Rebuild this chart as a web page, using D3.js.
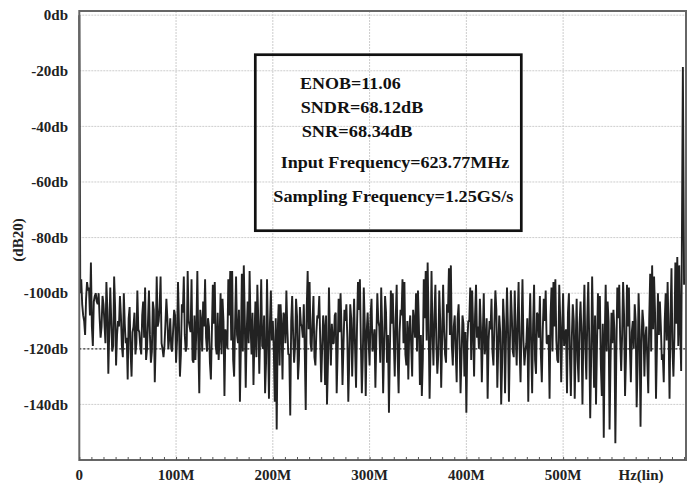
<!DOCTYPE html>
<html>
<head>
<meta charset="utf-8">
<script src="https://cdn.jsdelivr.net/npm/d3@7"></script>
<style>
body { margin: 0; background: #fff; }
text { font-family: "Liberation Serif", "Times New Roman", serif; font-weight: bold; fill: #222; }
</style>
</head>
<body>
<div id="chart"></div>
<script>
// spectrum data (dB20), even bins: 0, 2, 4 ... 622 MHz
var binStep = 2e6;
var evenDb = [
  0, -95, -108, -115, -96,      -98, -89, -119, -101, -103,
  -100, -116, -101, -111, -96,  -129, -98, -121, -94, -126,
  -110, -101, -119, -100, -118, -131, -105, -130, -112, -122,
  -99, -114, -122, -103, -98,   -120, -99, -125, -103, -132,
  -94, -110, -94, -120, -119,   -102, -120, -109, -121, -106,
  -125, -96, -130, -104, -94,   -121, -92, -112, -95, -125,
  -124, -92, -136, -110, -103,  -95, -121, -112, -131, -97,
  -96, -122, -124, -100, -102,  -137, -115, -95, -92, -92,
  -130, -94, -118, -139, -93,   -90, -134, -103, -92, -122,
  -133, -103, -97, -129, -95,   -120, -136, -95, -138, -99,
  -110, -139, -149, -104, -104, -131, -108, -99, -122, -144,
  -101, -125, -102, -131, -105, -112, -104, -142, -92, -96,
  -121, -101, -126, -108, -101, -132, -108, -133, -140, -98,
  -126, -118, -108, -136, -102, -100, -133, -106, -104, -139,
  -104, -130, -102, -134, -96,  -95, -136, -98, -137, -107,
  -126, -102, -118, -134, -100, -112, -98, -136, -101, -125,
  -143, -99, -100, -130, -97,   -136, -106, -95, -96, -126,
  -131, -108, -130, -110, -100, -99, -133, -137, -95, -92,
  -89, -138, -92, -126, -97,    -129, -99, -134, -97, -122,
  -104, -91, -90, -126, -108,   -132, -104, -136, -108, -130,
  -143, -110, -98, -99, -130,   -97, -112, -102, -132, -100,
  -118, -138, -110, -102, -126, -99, -134, -108, -140, -102,
  -136, -98, -139, -99, -121,   -99, -126, -96, -132, -95,
  -126, -118, -139, -100, -136, -97, -129, -108, -101, -132,
  -102, -99, -118, -138, -98,   -96, -95, -124, -97, -132,
  -100, -115, -136, -100, -137, -104, -138, -102, -132, -103,
  -140, -97, -131, -96, -145,   -94, -134, -140, -100, -101,
  -137, -152, -97, -103, -149,  -107, -106, -154, -98, -97,
  -128, -96, -137, -97, -98,    -132, -110, -104, -141, -100,
  -148, -106, -130, -112, -136, -93, -90, -94, -138, -100,
  -103, -124, -132, -100, -96,  -138, -91, -130, -89, -87,
  -90, -128
];
// odd bins: 1, 3, 5 ... 621 MHz
var oddDb = [
  -100, -104, -110, -102, -99, -108, -112, -103, -100, -104,
  -109, -112, -104, -118, -106, -113, -110, -119, -105, -115,
  -112, -108, -123, -111, -116, -109, -121, -114, -107, -118,
  -113, -119, -108, -116, -124, -110, -115, -121, -106, -117,
  -112, -105, -118, -123, -111, -109, -116, -120, -113, -108,
  -117, -111, -122, -107, -115, -119, -110, -114, -124, -108,
  -113, -118, -106, -121, -112, -116, -109, -125, -114, -111,
  -119, -107, -116, -122, -110, -113, -120, -108, -117, -124,
  -111, -115, -106, -119, -121, -109, -114, -118, -112, -107,
  -116, -123, -110, -113, -119, -108, -125, -115, -111, -117,
  -120, -109, -114, -126, -112, -107, -118, -113, -122, -110,
  -115, -119, -108, -124, -111, -116, -121, -106, -113, -118,
  -110, -123, -114, -109, -117, -120, -112, -108, -125, -115,
  -111, -118, -107, -121, -114, -113, -119, -110, -116, -124,
  -109, -115, -120, -112, -106, -118, -123, -111, -114, -117,
  -108, -121, -113, -116, -110, -125, -112, -119, -107, -115,
  -120, -111, -117, -109, -123, -114, -108, -118, -122, -110,
  -113, -119, -106, -116, -121, -112, -115, -124, -109, -117,
  -111, -120, -114, -108, -118, -122, -110, -116, -113, -125,
  -107, -115, -119, -112, -121, -109, -117, -123, -111, -114,
  -118, -110, -124, -113, -108, -116, -120, -112, -115, -122,
  -109, -117, -113, -121, -111, -106, -119, -114, -125, -110,
  -116, -112, -118, -108, -123, -115, -110, -120, -113, -117,
  -121, -109, -114, -119, -111, -124, -107, -116, -122, -113,
  -110, -118, -115, -108, -121, -112, -117, -125, -109, -114,
  -119, -113, -107, -122, -116, -110, -118, -124, -111, -115,
  -112, -120, -109, -117, -123, -114, -108, -119, -113, -126,
  -111, -116, -121, -110, -125, -118, -113, -122, -109, -117,
  -115, -108, -123, -112, -119, -114, -120, -110, -126, -113,
  -118, -111, -116, -124, -109, -121, -113, -107, -119, -115,
  -112, -122, -110, -117, -114, -108, -120, -116, -111, -119,
  -113
];
// input tone near nyquist
var toneFreq = 623.77e6;
var toneDb = -18.6;
var edgeFreq = 625e6;
var edgeDb = -97;

var yTicks = [0, -20, -40, -60, -80, -100, -120, -140];
var xTicks = [0, 100e6, 200e6, 300e6, 400e6, 500e6];
var xTickLabels = ["0", "100M", "200M", "300M", "400M", "500M"];
var infoLines = ["ENOB=11.06", "SNDR=68.12dB", "SNR=68.34dB",
  "Input Frequency=623.77MHz", "Sampling Frequency=1.25GS/s"];

var data = [];
evenDb.forEach((v, i) => {
  data.push({f: i * binStep, db: v});
  if (i < oddDb.length) data.push({f: i * binStep + binStep / 2, db: oddDb[i]});
});
data.push({f: toneFreq, db: toneDb});
data.push({f: edgeFreq, db: edgeDb});

var W = 693, H = 487;
var svg = d3.select("#chart").append("svg")
  .attr("width", W)
  .attr("height", H);

var x = d3.scaleLinear().domain([0, 627e6]).range([79.3, 686]);
var y = d3.scaleLinear().domain([-160, 1.5]).range([460, 11]);

// grid
svg.selectAll(".hgrid")
  .data(yTicks)
  .enter().append("line")
  .attr("x1", x(0)).attr("x2", x(627e6))
  .attr("y1", d => y(d)).attr("y2", d => y(d))
  .style("stroke", "#cdcdcd")
  .style("stroke-dasharray", "2,1");

svg.selectAll(".vgrid")
  .data(xTicks.slice(1))
  .enter().append("line")
  .attr("x1", d => x(d)).attr("x2", d => x(d))
  .attr("y1", y(1.5)).attr("y2", y(-160))
  .style("stroke", "#cdcdcd")
  .style("stroke-dasharray", "2,1");

// dotted reference at -120db
svg.append("line")
  .attr("x1", x(0)).attr("x2", x(627e6))
  .attr("y1", y(-120)).attr("y2", y(-120))
  .style("stroke", "#333")
  .style("stroke-width", 1.2)
  .style("stroke-dasharray", "2,2");

// spectrum trace
var line = d3.line()
  .x(d => x(d.f))
  .y(d => y(d.db));

svg.append("path")
  .datum(data)
  .attr("d", line)
  .style("fill", "none")
  .style("stroke", "#222")
  .style("stroke-width", 1.9)
  .style("stroke-linejoin", "bevel");

// frame
svg.append("rect")
  .attr("x", x(0))
  .attr("y", y(1.5))
  .attr("width", x(627e6) - x(0))
  .attr("height", y(-160) - y(1.5))
  .style("fill", "none")
  .style("stroke", "#666")
  .style("stroke-width", 2);

// minor ticks on bottom
svg.append("g")
  .attr("transform", "translate(0," + y(-160) + ")")
  .call(d3.axisTop(x).tickValues(d3.range(0, 627e6, 12.5e6)).tickSize(3).tickFormat(""))
  .call(g => g.select(".domain").remove())
  .selectAll("line").style("stroke", "#555");

// y labels
svg.selectAll(".ylab")
  .data(yTicks)
  .enter().append("text")
  .attr("x", 68)
  .attr("y", d => y(d))
  .attr("dy", "0.35em")
  .style("text-anchor", "end")
  .style("font-size", "15px")
  .text(d => d + "db");

// x labels
svg.selectAll(".xlab")
  .data(xTicks)
  .enter().append("text")
  .attr("x", d => x(d))
  .attr("y", 480)
  .style("text-anchor", "middle")
  .style("font-size", "15px")
  .text((d, i) => xTickLabels[i]);

svg.append("text")
  .attr("x", 641)
  .attr("y", 480)
  .style("text-anchor", "middle")
  .style("font-size", "15px")
  .text("Hz(lin)");

svg.append("text")
  .attr("transform", "translate(23,240) rotate(-90)")
  .style("text-anchor", "middle")
  .style("font-size", "15px")
  .text("(dB20)");

// info box
svg.append("rect")
  .attr("x", 255.3)
  .attr("y", 54.7)
  .attr("width", 266)
  .attr("height", 176)
  .style("fill", "none")
  .style("stroke", "#111")
  .style("stroke-width", 2.7);

var infoX = [300, 300.7, 301.7, 280.7, 273.3];
var infoY = [88.5, 112.5, 137, 168, 202];
var infoW = [100.7, 122.6, 110.7, 228.6, 240];

svg.selectAll(".info")
  .data(infoLines)
  .enter().append("text")
  .attr("x", (d, i) => infoX[i])
  .attr("y", (d, i) => infoY[i])
  .attr("textLength", (d, i) => infoW[i])
  .attr("lengthAdjust", "spacingAndGlyphs")
  .style("font-size", "16px")
  .style("fill", "#111")
  .text(d => d);
</script>
</body>
</html>
